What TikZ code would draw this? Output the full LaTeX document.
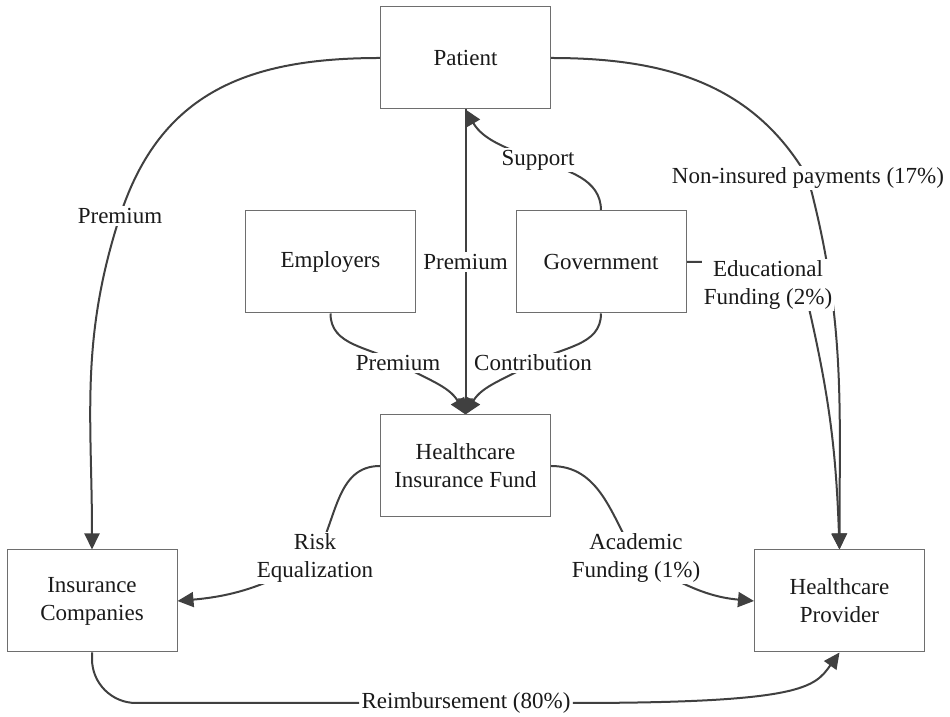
\documentclass[tikz,border=0pt]{standalone}
\usepackage{fontspec}
\setmainfont{Liberation Serif}
\usetikzlibrary{arrows.meta,backgrounds,calc}
\definecolor{lineGray}{HTML}{404040}
\definecolor{boxGray}{HTML}{6E6E6E}
\definecolor{textBlack}{HTML}{1A1A1A}

\begin{document}
\begin{tikzpicture}[x=0.5pt,y=0.5pt
    , every node/.style={font=\rmfamily\fontsize{11.5}{14}\selectfont, text=textBlack}
    , box/.style={draw=boxGray, line width=0.5pt, fill=white, minimum width=85pt, minimum height=51pt, align=center}
    , lbl/.style={fill=white, inner sep=1pt, align=center}
    , flow/.style={draw=lineGray, line width=1pt, -{Triangle[length=8pt,width=7.5pt]}}
    , plain/.style={draw=lineGray, line width=1pt}
    ]
\useasboundingbox (0,0) rectangle (950,717);
% boxes
\node[box] (pat) at (465.5,659) {Patient};
\node[box] (emp) at (330.5,455) {Employers};
\node[box] (gov) at (601,455) {Government};
\node[box] (hif) at (465.5,251) {Healthcare\\Insurance Fund};
\node[box] (ins) at (92,116) {Insurance\\Companies};
\node[box] (pro) at (839.5,116) {Healthcare\\Provider};
% labels
\node[lbl] (lPremL) at (120,501) {Premium};
\node[lbl] (lNonIns) at (808,539) {Non-insured payments (17\%)};
\node[lbl] (lSupport) at (538,557) {Support};
\node[lbl] (lPremM) at (465.5,455) {Premium};
\node[lbl] (lEdu) at (768,432) {Educational\\Funding (2\%)};
\node[lbl] (lPremE) at (398,354) {Premium};
\node[lbl] (lContr) at (533,354) {Contribution};
\node[lbl] (lRisk) at (315,159) {Risk\\Equalization};
\node[lbl] (lAcad) at (636,159) {Academic\\Funding (1\%)};
\node[lbl] (lReimb) at (466,14) {Reimbursement (80\%)};
% flows
\begin{pgfonlayer}{background}
\draw[flow] (pat.west) to[out=180,in=72,looseness=1.1] (lPremL.center) to[out=-108,in=90] (ins.north);
\draw[flow] (pat.east) to[out=0,in=120] (lNonIns.center) to[out=-75,in=90] (pro.north);
\draw[flow] (gov.east) -- (gov.east -| lEdu.center) -- ($(lEdu.south)+(40,8)$) to[out=-77,in=92] (pro.north);
\draw[flow] (gov.north) to[out=90,in=-20] (lSupport.center) to[out=160,in=-60] (pat.south);
\draw[flow] (pat.south) -- (hif.north);
\draw[flow] (emp.south) to[out=-90,in=150] (lPremE.center) to[out=-30,in=120] (hif.north);
\draw[flow] (gov.south) to[out=-90,in=30] (lContr.center) to[out=-150,in=60] (hif.north);
\draw[flow] (hif.west) to[out=180,in=60] (lRisk.center) to[out=-150,in=5] (ins.east);
\draw[flow] (hif.east) to[out=0,in=120] (lAcad.center) to[out=-30,in=175] (pro.west);
\draw[plain, rounded corners=22pt] (ins.south) |- (lReimb.west);
\draw[flow] (lReimb.east) .. controls +(230,0) and +(-25,-35) .. (pro.south);
\end{pgfonlayer}
\end{tikzpicture}
\end{document}
